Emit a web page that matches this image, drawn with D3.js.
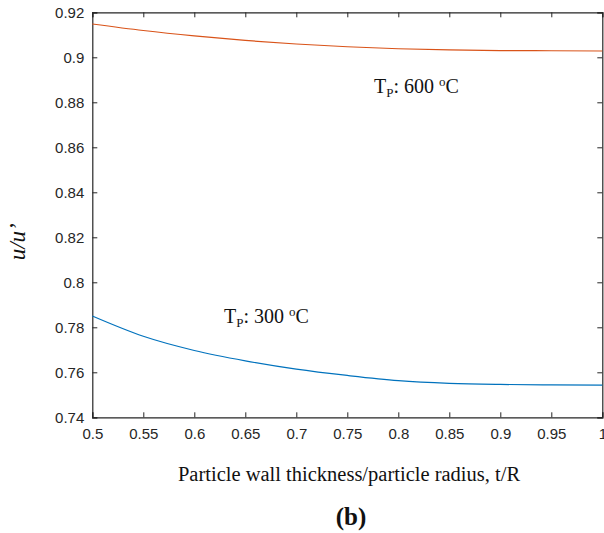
<!DOCTYPE html>
<html>
<head>
<meta charset="utf-8">
<script src="https://cdn.jsdelivr.net/npm/d3@7"></script>
<style>
  html, body { margin: 0; padding: 0; background: #fff; }
  svg { display: block; }
</style>
</head>
<body>
<svg id="chart" width="604" height="533"></svg>
<script>
// ---- data ----
const tR = [0.5, 0.55, 0.6, 0.65, 0.7, 0.75, 0.8, 0.85, 0.9, 0.95, 1.0];
const u600 = [0.9148, 0.9119, 0.9095, 0.9075, 0.9059, 0.9047, 0.9038, 0.9033, 0.9030, 0.9029, 0.9028];
const u300 = [0.7850, 0.7760, 0.7697, 0.7651, 0.7614, 0.7586, 0.7563, 0.7551, 0.7546, 0.7544, 0.7543];
const xTicks = [0.5, 0.55, 0.6, 0.65, 0.7, 0.75, 0.8, 0.85, 0.9, 0.95, 1];
const yTicks = [0.74, 0.76, 0.78, 0.8, 0.82, 0.84, 0.86, 0.88, 0.9, 0.92];
const xTickLabels = ["0.5", "0.55", "0.6", "0.65", "0.7", "0.75", "0.8", "0.85", "0.9", "0.95", "1"];
const yTickLabels = ["0.74", "0.76", "0.78", "0.8", "0.82", "0.84", "0.86", "0.88", "0.9", "0.92"];

const svg = d3.select("#chart");
const L = 92.3, R = 602.3, T = 12.3, B = 417.3;
const x = d3.scaleLinear().domain([0.5, 1]).range([L, R]);
const y = d3.scaleLinear().domain([0.74, 0.92]).range([B, T]);
const axisColor = "#262626";
const tickFont = "'Liberation Sans', Arial, Helvetica, sans-serif";
const serif = "'Liberation Serif', 'Times New Roman', Times, serif";

// axes with inward ticks
const gx = svg.append("g").attr("transform", `translate(0,${B})`)
  .call(d3.axisBottom(x).tickValues(xTicks).tickSize(-5).tickPadding(11)
    .tickFormat((d, i) => xTickLabels[i]));
const gxt = svg.append("g").attr("transform", `translate(0,${T})`)
  .call(d3.axisTop(x).tickValues(xTicks).tickSize(-5).tickFormat(""));
const gy = svg.append("g").attr("transform", `translate(${L},0)`)
  .call(d3.axisLeft(y).tickValues(yTicks).tickSize(-5).tickPadding(8)
    .tickFormat((d, i) => yTickLabels[i]));
const gyr = svg.append("g").attr("transform", `translate(${R},0)`)
  .call(d3.axisRight(y).tickValues(yTicks).tickSize(-5).tickFormat(""));

[gx, gxt, gy, gyr].forEach(g => {
  g.select(".domain").attr("stroke", axisColor).attr("stroke-width", 1.2);
  g.selectAll(".tick line").attr("stroke", axisColor).attr("stroke-width", 1);
  g.selectAll(".tick text").attr("fill", axisColor)
    .style("font-family", tickFont).style("font-size", "15px");
});
gx.selectAll(".tick text").attr("dy", "0.71em");
gy.selectAll(".tick text").attr("dy", "0.35em");

// curves
const line = d3.line().curve(d3.curveMonotoneX);
svg.append("path")
  .attr("d", line(tR.map((t, i) => [x(t), y(u600[i])])))
  .attr("fill", "none").attr("stroke", "#D95319").attr("stroke-width", 1.2);
svg.append("path")
  .attr("d", line(tR.map((t, i) => [x(t), y(u300[i])])))
  .attr("fill", "none").attr("stroke", "#0072BD").attr("stroke-width", 1.2);

// annotations
function annot(xp, yp, temp) {
  const t = svg.append("text").attr("x", xp).attr("y", yp)
    .style("font-family", serif).style("font-size", "20px").attr("fill", "#111");
  t.append("tspan").text("T");
  t.append("tspan").text("P").style("font-size", "13px").attr("dy", 4);
  t.append("tspan").text(": " + temp + " ").attr("dy", -4);
  t.append("tspan").text("o").style("font-size", "13px").attr("dy", -7);
  t.append("tspan").text("C").attr("dy", 7);
}
annot(374, 93, "600");
annot(224, 323, "300");

// axis labels
svg.append("text")
  .attr("transform", `translate(25,${(T + B) / 2 + 27}) rotate(-90)`)
  .attr("text-anchor", "middle")
  .style("font-family", serif).style("font-size", "23px").style("font-style", "italic")
  .attr("fill", "#111")
  .text("u/u\u2019");

svg.append("text")
  .attr("x", 349).attr("y", 481).attr("text-anchor", "middle")
  .style("font-family", serif).style("font-size", "20.5px").attr("fill", "#111")
  .text("Particle wall thickness/particle radius, t/R");

svg.append("text")
  .attr("x", 351).attr("y", 525).attr("text-anchor", "middle")
  .style("font-family", serif).style("font-size", "25px").style("font-weight", "bold")
  .attr("fill", "#111")
  .text("(b)");
</script>
</body>
</html>
